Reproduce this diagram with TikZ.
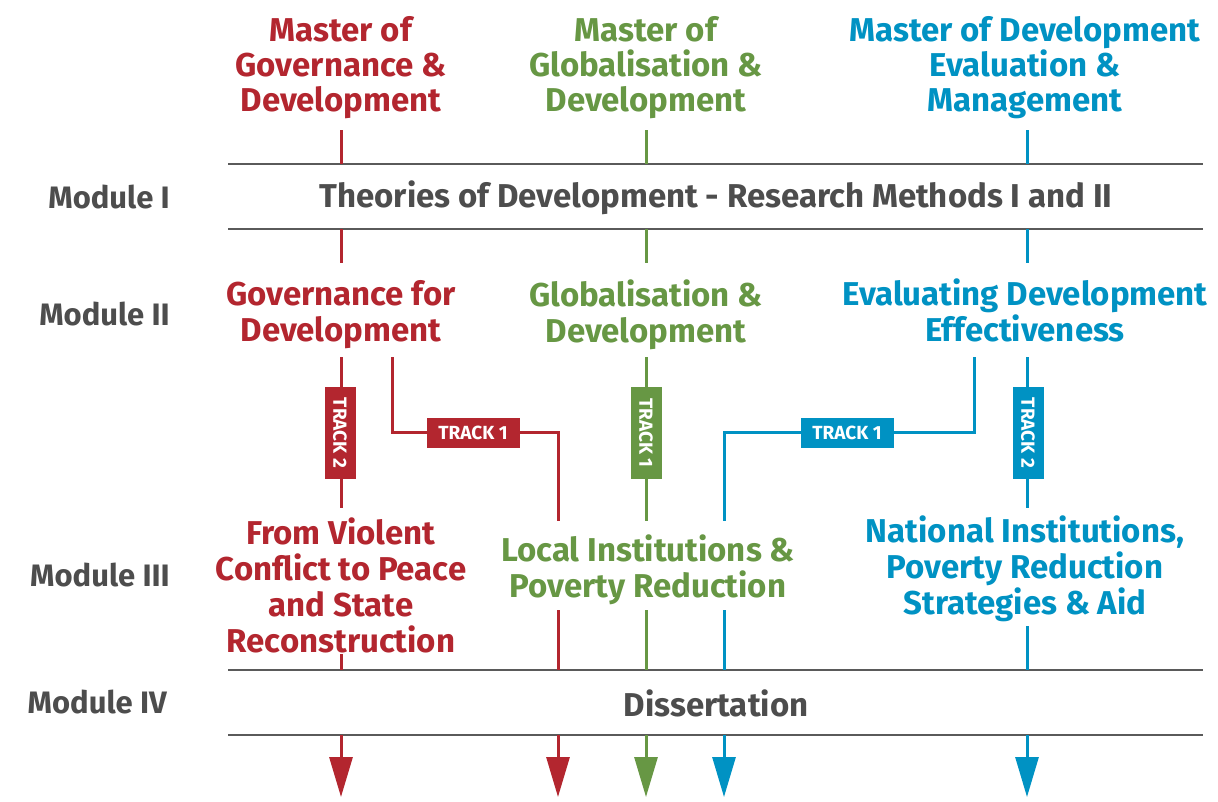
\documentclass[tikz,border=0pt]{standalone}
\usepackage{fontspec}
\setmainfont{Fira Sans}
\usetikzlibrary{arrows.meta}
\definecolor{cred}{HTML}{B3262F}
\definecolor{cgreen}{HTML}{679744}
\definecolor{cblue}{HTML}{0092C3}
\definecolor{cgrey}{HTML}{4D4D4D}
\definecolor{cline}{HTML}{5A5A5A}
\begin{document}
\begin{tikzpicture}[x=1pt,y=-1pt,
  title/.style={align=center, font=\bfseries\fontsize{33}{35}\selectfont, inner sep=0pt},
  modtxt/.style={align=center, font=\bfseries\fontsize{33}{36}\selectfont, inner sep=0pt},
  modlabel/.style={anchor=east, text=cgrey, font=\bfseries\fontsize{31}{32}\selectfont, inner sep=0pt},
  greyline/.style={draw=cline, line width=2pt},
  flow/.style={line width=3pt},
  tip/.style={line width=3pt, -{Triangle[length=40pt,width=23pt]}},
  trackh/.style={minimum width=93pt, minimum height=30pt, inner sep=0pt, text=white, font=\bfseries\fontsize{19}{19}\selectfont},
  trackv/.style={minimum width=92pt, minimum height=31pt, inner sep=0pt, text=white, rotate=-90, font=\bfseries\fontsize{19}{19}\selectfont}
]
\useasboundingbox[fill=white] (0,0) rectangle (1218,801);

% grey module lines
\coordinate (g1a) at (228,164); \coordinate (g1b) at (1203,164);
\coordinate (g2a) at (228,229); \coordinate (g2b) at (1203,229);
\coordinate (g3a) at (228,670); \coordinate (g3b) at (1203,670);
\coordinate (g4a) at (228,735); \coordinate (g4b) at (1203,735);
\draw[greyline] (g1a) -- (g1b);
\draw[greyline] (g2a) -- (g2b);
\draw[greyline] (g3a) -- (g3b);
\draw[greyline] (g4a) -- (g4b);

% titles
\node[title, text=cred] (tRed) at (341,68) {Master of\\Governance \&\\Development};
\node[title, text=cgreen] (tGreen) at (646,68) {Master of\\Globalisation \&\\Development};
\node[title, text=cblue] (tBlue) at (1025,68) {Master of Development\\Evaluation \&\\Management};

% module labels
\node[modlabel] (m1) at (170,197) {Module I};
\node[modlabel] (m2) at (170,314) {Module II};
\node[modlabel] (m3) at (170,575) {Module III};
\node[modlabel] (m4) at (167,702) {Module IV};

% module I & IV
\node[modtxt, text=cgrey] (mod1) at (716,198) {Theories of Development - Research Methods I and II};
\node[modtxt, text=cgrey] (mod4) at (716,703) {Dissertation};

% module II
\node[modtxt, text=cred] (r2) at (341,315) {Governance for\\Development};
\node[modtxt, text=cgreen] (gr2) at (646,315) {Globalisation \&\\Development};
\node[modtxt, text=cblue] (b2) at (1025,310) {Evaluating Development\\Effectiveness};

% module III
\node[modtxt, text=cred] (r3) at (341,585) {From Violent\\Conflict to Peace\\and State\\Reconstruction};
\node[modtxt, text=cgreen] (gr3) at (648,570) {Local Institutions \&\\Poverty Reduction};
\node[modtxt, text=cblue] (b3) at (1025,569) {National Institutions,\\Poverty Reduction\\Strategies \& Aid};

% coordinates
\foreach \n/\x in {r/341, g/646, b/1027} {
  \coordinate (\n a) at (\x,130); \coordinate (\n b) at (\x,164);
  \coordinate (\n c) at (\x,229); \coordinate (\n d) at (\x,263);
  \coordinate (\n e) at (\x,357);
  \coordinate (\n h) at (\x,670); \coordinate (\n i) at (\x,735); \coordinate (\n j) at (\x,797);
}
\coordinate (rf) at (341,508); \coordinate (rg) at (341,654);
\coordinate (gf) at (646,521); \coordinate (gg) at (646,610);
\coordinate (bf) at (1027,508); \coordinate (bg) at (1027,626);
% red track 1 branch
\coordinate (rt0) at (392,357); \coordinate (rt1) at (392,432); \coordinate (rt2) at (558,432);
\coordinate (rt3) at (558,521); \coordinate (rt4) at (558,610); \coordinate (rt5) at (558,670);
\coordinate (rt6) at (558,735); \coordinate (rt7) at (558,797);
% blue track 1 branch
\coordinate (bt0) at (974,357); \coordinate (bt1) at (974,432); \coordinate (bt2) at (724,432);
\coordinate (bt3) at (724,521); \coordinate (bt4) at (724,610); \coordinate (bt5) at (724,670);
\coordinate (bt6) at (724,735); \coordinate (bt7) at (724,797);

% red column
\draw[flow, cred] (ra) -- (rb);
\draw[flow, cred] (rc) -- (rd);
\draw[flow, cred] (re) -- (rf);
\draw[flow, cred] (rg) -- (rh);
\draw[tip, cred] (ri) -- (rj);
\draw[flow, cred] (rt0) -- (rt1) -- (rt2) -- (rt3);
\draw[flow, cred] (rt4) -- (rt5);
\draw[tip, cred] (rt6) -- (rt7);
% green column
\draw[flow, cgreen] (ga) -- (gb);
\draw[flow, cgreen] (gc) -- (gd);
\draw[flow, cgreen] (ge) -- (gf);
\draw[flow, cgreen] (gg) -- (gh);
\draw[tip, cgreen] (gi) -- (gj);
% blue column
\draw[flow, cblue] (ba) -- (bb);
\draw[flow, cblue] (bc) -- (bd);
\draw[flow, cblue] (be) -- (bf);
\draw[flow, cblue] (bg) -- (bh);
\draw[tip, cblue] (bi) -- (bj);
\draw[flow, cblue] (bt0) -- (bt1) -- (bt2) -- (bt3);
\draw[flow, cblue] (bt4) -- (bt5);
\draw[tip, cblue] (bt6) -- (bt7);

% track boxes
\node[trackv, fill=cred] (rT2) at (340,433) {TRACK 2};
\node[trackh, fill=cred] (rT1) at (473,433) {TRACK 1};
\node[trackv, fill=cgreen] (gT1) at (646,433) {TRACK 1};
\node[trackh, fill=cblue] (bT1) at (847,433) {TRACK 1};
\node[trackv, fill=cblue] (bT2) at (1028,433) {TRACK 2};
\end{tikzpicture}
\end{document}
